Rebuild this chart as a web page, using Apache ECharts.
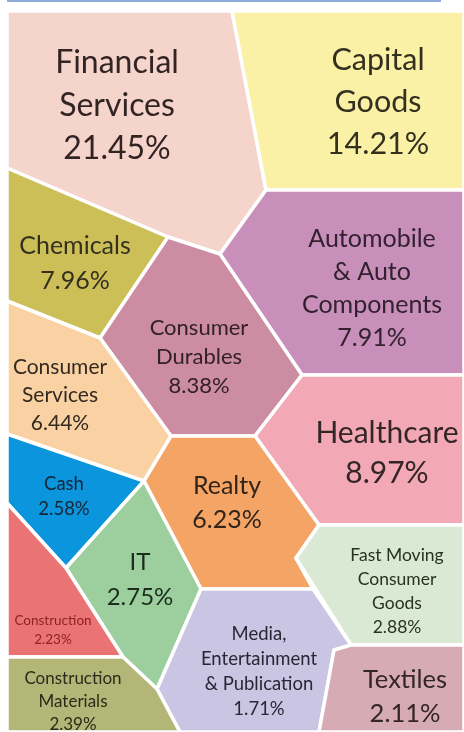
<!DOCTYPE html>
<html>
<head>
<meta charset="utf-8">
<script src="https://cdn.jsdelivr.net/npm/echarts@6/dist/echarts.min.js"></script>
<style>
  html, body { margin: 0; padding: 0; background: #ffffff; }
  #chart { width: 464px; height: 732px; }
</style>
</head>
<body>
<div id="chart"></div>
<script>
// Sector allocation, drawn as a Voronoi treemap
const sectors = [
  'Financial Services', 'Capital Goods', 'Chemicals', 'Automobile & Auto Components',
  'Consumer Durables', 'Consumer Services', 'Healthcare', 'Cash', 'Realty', 'IT',
  'Construction', 'Fast Moving Consumer Goods', 'Media, Entertainment & Publication',
  'Textiles', 'Construction Materials'
];
const weights = [21.45, 14.21, 7.96, 7.91, 8.38, 6.44, 8.97, 2.58, 6.23, 2.75, 2.23, 2.88, 1.71, 2.11, 2.39];
const nameLines = [
  'Financial\nServices', 'Capital\nGoods', 'Chemicals', 'Automobile\n& Auto\nComponents',
  'Consumer\nDurables', 'Consumer\nServices', 'Healthcare', 'Cash', 'Realty', 'IT',
  'Construction', 'Fast Moving\nConsumer\nGoods', 'Media,\nEntertainment\n& Publication',
  'Textiles', 'Construction\nMaterials'
];

// Cell outlines of the treemap (plot units: 0..464 across, 0..732 down)
const cellOutlines = [
  [[7,11],[232,11],[266,190],[220,254],[168,237],[7,168]],
  [[232,11],[464,11],[464,190],[266,190]],
  [[7,168],[168,237],[100,338],[7,301]],
  [[266,190],[464,190],[464,375],[302,375],[220,254]],
  [[168,237],[220,254],[302,375],[255,436],[171,436],[100,338]],
  [[7,301],[100,338],[171,436],[144,481],[7,434]],
  [[302,375],[464,375],[464,525],[319,525],[255,436]],
  [[7,434],[144,481],[66,568],[7,503]],
  [[171,436],[255,436],[319,525],[296,558],[313,589],[201,589],[144,481]],
  [[144,481],[201,589],[157,689],[123,657],[66,568]],
  [[7,503],[66,568],[123,657],[7,657]],
  [[319,525],[464,525],[464,645],[351,645],[296,558]],
  [[201,589],[313,589],[351,645],[334,650],[319,732],[180,732],[157,689]],
  [[334,650],[351,645],[464,645],[464,732],[319,732]],
  [[7,657],[123,657],[157,689],[180,732],[7,732]]
];
const labelAt = [
  [117,106],[378,102],[75,263],[372,288],[199,357],[60,395],[387,453],[64,497],
  [227,503],[140,580],[53,630],[397,591],[259,672],[405,697],[73,702]
];
const fontSizes = [32, 30.5, 25, 25, 22, 21, 30, 18.5, 25, 24, 13.5, 17.5, 18.5, 25.5, 17];
const lineHeights = [43, 42, 35, 33, 29, 28, 40, 25, 34, 35, 19, 24, 25, 34, 23];
const colors = [
  '#f5d4cc', '#fbf1a6', '#cdbf58', '#c98fbb', '#cc8ca1', '#f9d1a2', '#f3a9b5',
  '#0b95dc', '#f4a465', '#9dce9d', '#ea7373', '#d9e9d3', '#c9c5e3', '#d6abb4', '#b3b676'
];
const textColors = [
  '#332424', '#33301f', '#33301f', '#33212f', '#33212a', '#332a21', '#332528',
  '#182536', '#33251a', '#1b2d1c', '#8c2424', '#28331f', '#292735', '#332528', '#292b1a'
];

const chart = echarts.init(document.getElementById('chart'), null, { renderer: 'canvas' });

const seriesData = sectors.map((s, i) => ({ name: s, value: [weights[i], i] }));

chart.setOption({
  backgroundColor: '#ffffff',
  animation: false,
  grid: { left: 0, top: 0, width: 464, height: 732 },
  xAxis: { type: 'value', min: 0, max: 464, show: false },
  yAxis: { type: 'value', min: 0, max: 732, inverse: true, show: false },
  graphic: [{
    type: 'line',
    shape: { x1: 7, y1: 1, x2: 441, y2: 1 },
    style: { stroke: '#8eaadb', lineWidth: 2 }
  }],
  series: [{
    type: 'custom',
    coordinateSystem: 'cartesian2d',
    data: seriesData,
    renderItem: function (params, api) {
      const i = api.value(1);
      const pts = cellOutlines[i].map(p => api.coord(p));
      const c = api.coord(labelAt[i]);
      const fs = fontSizes[i];
      return {
        type: 'group',
        children: [
          {
            type: 'polygon',
            shape: { points: pts },
            style: { fill: colors[i], stroke: '#ffffff', lineWidth: 3.5, lineJoin: 'miter' }
          },
          {
            type: 'text',
            x: c[0], y: c[1],
            style: {
              text: nameLines[i] + '\n' + weights[i].toFixed(2) + '%',
              fill: textColors[i],
              font: fs + 'px Lato, "Open Sans", sans-serif',
              lineHeight: lineHeights[i],
              align: 'center',
              verticalAlign: 'middle'
            }
          }
        ]
      };
    }
  }]
});
</script>
</body>
</html>
